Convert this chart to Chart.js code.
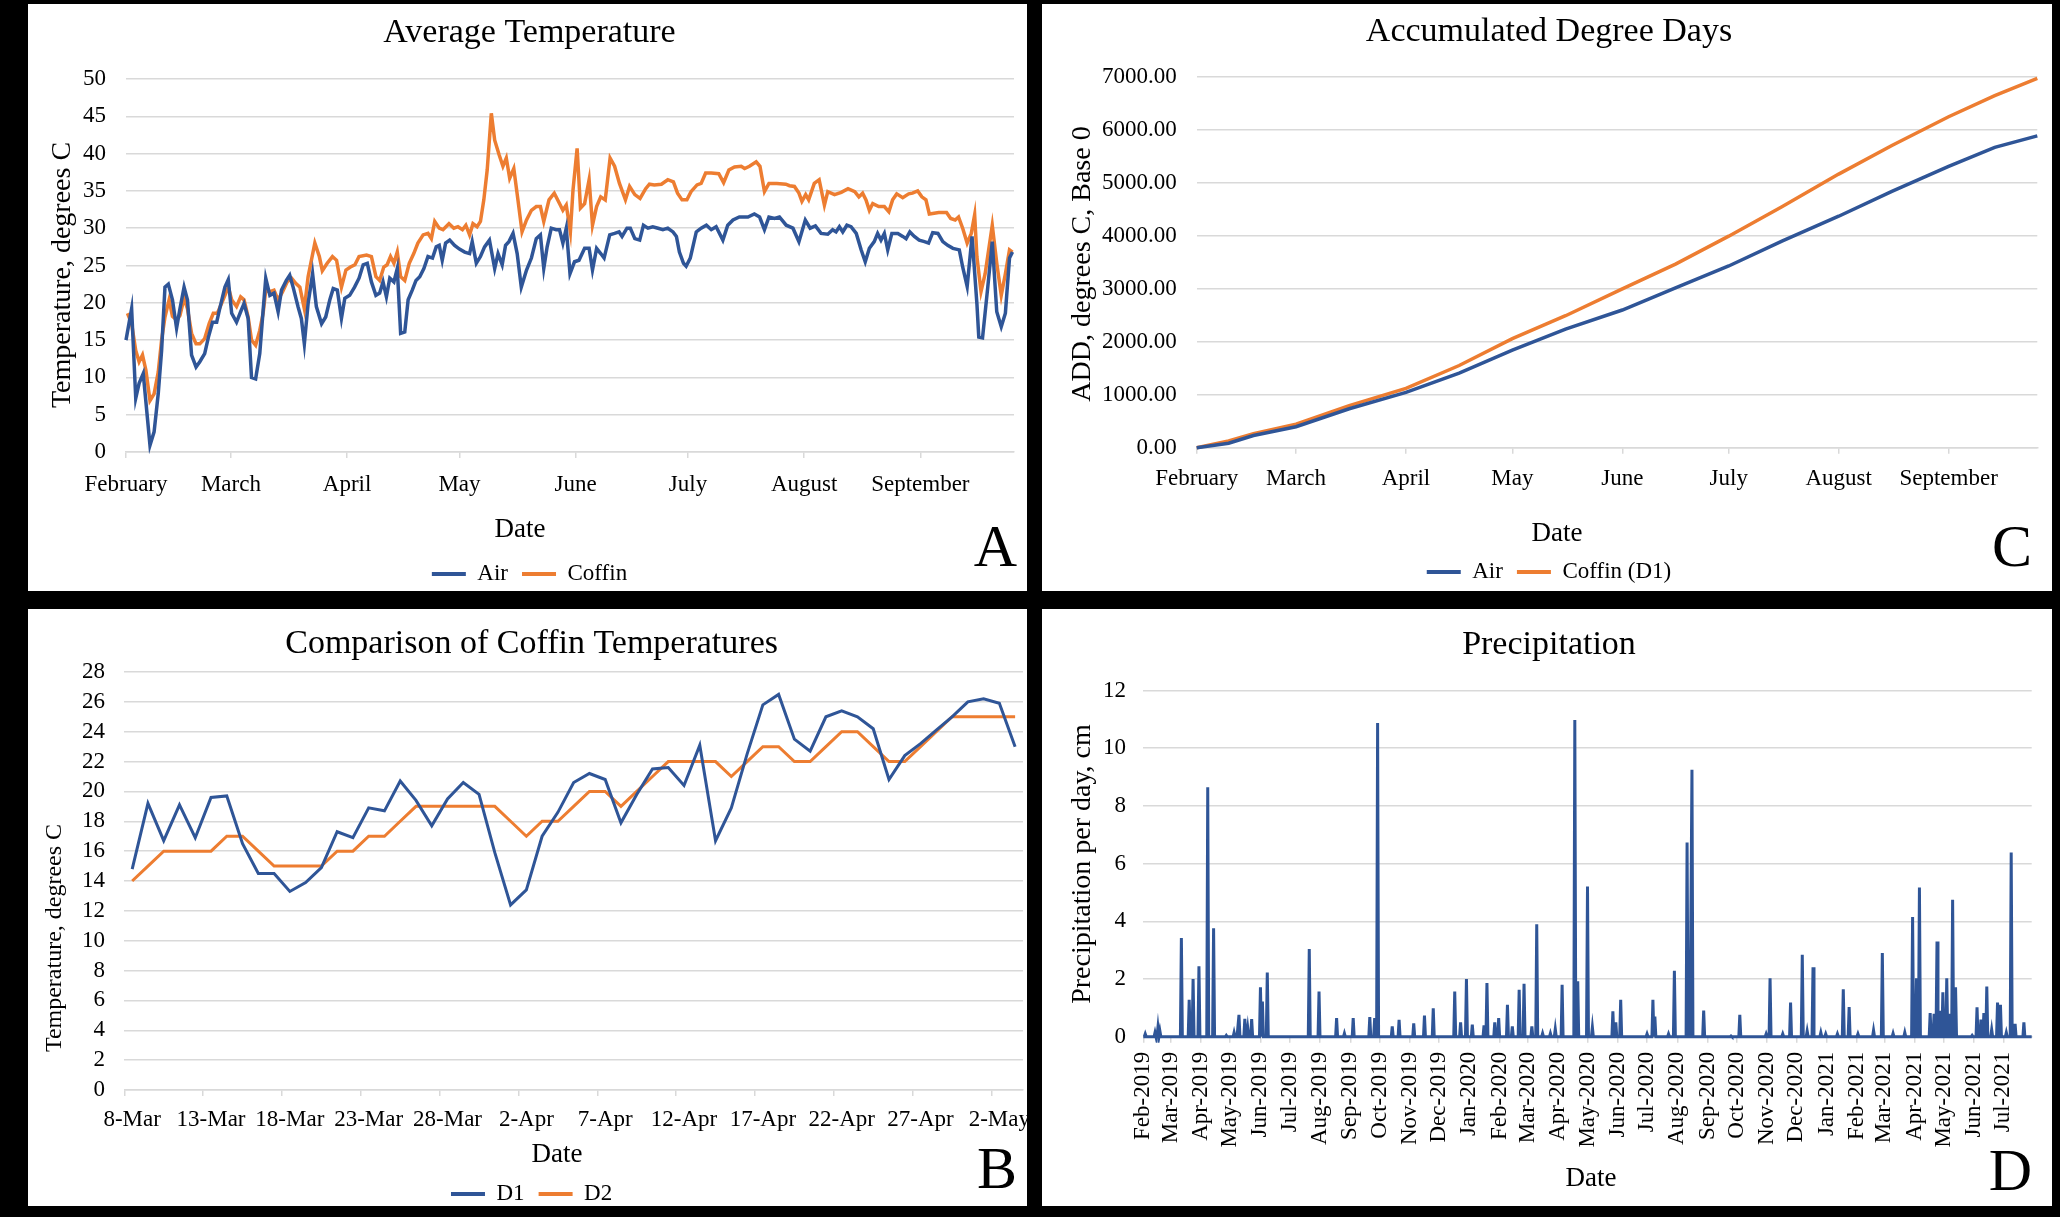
<!DOCTYPE html>
<html><head><meta charset="utf-8">
<script src="https://cdn.jsdelivr.net/npm/chart.js@4.4.1/dist/chart.umd.min.js"></script>
<style>
html,body{margin:0;padding:0;background:#000;}
body{width:2060px;height:1217px;position:relative;overflow:hidden;}
.panel{position:absolute;background:#fff;overflow:hidden;}
.panel canvas{position:absolute;left:0;top:0;}
</style></head><body>
<div class="panel" style="left:28px;top:4px;width:999px;height:587px"><canvas id="cA" width="999" height="627"></canvas></div>
<div class="panel" style="left:1042px;top:4px;width:1010px;height:587px"><canvas id="cC" width="1010" height="627"></canvas></div>
<div class="panel" style="left:28px;top:609px;width:999px;height:597px"><canvas id="cB" width="999" height="637"></canvas></div>
<div class="panel" style="left:1042px;top:609px;width:1010px;height:597px"><canvas id="cD" width="1010" height="637"></canvas></div>
<script>
// ---------- DATA ----------
// Panel A: average temperature (day index from 1 Feb)
const monthStarts = [0, 28, 59, 89, 120, 150, 181, 212];
const monthNames = ['February','March','April','May','June','July','August','September'];
const airDay = [0,1.5,2.6,3.5,4.6,6.4,7.5,8.6,9.5,10.4,11.3,12.4,13.5,14.4,15.5,16.4,17.5,18.7,19.7,21,22,23.1,24.2,25,26.4,27.3,28.2,29.5,30.6,31.5,32.6,33.5,34.6,35.7,36.6,37.3,38.4,39.5,40.6,41.5,42.8,43.7,44.6,45.9,46.8,47.6,48.6,49.8,50.8,52.2,53.3,54.4,55.3,56.4,57.5,58.4,59.7,61,62.2,63.3,64.4,65.5,66.7,67.7,68.6,69.5,70.4,71.5,72.4,73.3,74.4,75.3,76.4,77.4,78.4,79.5,80.6,81.8,82.8,83.6,84.4,85.3,86.4,87.7,89,90.4,91.7,92.4,93.5,94.6,95.7,97,98.4,99.3,100.4,101.3,102.2,103.3,104.4,105.5,106.9,108.2,109.5,110.6,111.5,112.4,113.5,114.8,115.7,116.6,117.5,118.5,119.7,120.9,122.4,123.6,124.5,125.6,126.7,127.6,129.1,130.4,131.6,132.4,133.7,134.6,135.8,137.1,138.1,139.3,140.6,142,143.3,144.6,146,146.9,147.7,148.8,149.5,150.6,152.2,153.5,154.9,156.2,157.5,159.3,160.6,162,163.7,166,167.7,169.1,170.4,171.6,173.1,174.4,176.2,178,179.6,181.3,182.6,184,185.5,187.3,188.6,189.5,190.4,191.3,192.4,193.5,194.9,196.2,197.3,198.4,199.7,200.6,201.5,202.4,203.3,204.4,206,207.3,208.2,209.2,210.4,211.7,213.1,214.2,215.3,216.7,218,219.3,220.7,222.4,223.3,224.5,225.8,227.1,227.6,228.6,230,231.2,232.4,233.6,234.7,235.8,236.6];
const airTemp = [15,19.2,7.2,9.2,10.5,0.9,2.7,7.8,13.6,22.1,22.5,20.4,16.6,19.2,22.1,20.4,13,11.4,12.1,13.2,15.4,17.4,17.4,19.2,22.1,23.1,18.6,17.4,18.8,19.9,17.9,10,9.8,13.2,19,23.3,21,21.3,18.8,21.7,23,23.7,22.1,19.5,17.9,14.5,19.9,23.9,19.5,17.2,18.1,20.4,21.9,21.7,17.9,20.6,21,22.1,23.3,25.1,25.3,22.8,21,21.3,22.8,20.8,23.3,22.8,24.6,15.9,16.1,20.4,21.7,23,23.5,24.6,26.2,26,27.5,27.7,25.7,28,28.4,27.7,27.2,26.8,26.6,28.2,25.3,26.2,27.5,28.4,24.6,26.6,25.1,27.7,28.2,29.3,26.6,22.1,24.4,26,28.6,29.1,24.6,27.5,30,29.8,29.8,28,30,23.9,25.5,25.7,27.3,27.3,24.4,27.3,26.6,26,29.1,29.3,29.5,28.9,30,30,28.6,28.4,30.4,30,30.2,30,29.8,30,29.5,28.9,26.8,25.3,24.9,26,29.5,30,30.4,29.8,30.2,28.4,30.4,31.1,31.5,31.5,31.9,31.5,29.8,31.5,31.3,31.5,30.4,30,28.2,31.1,30,30.3,29.3,29.2,29.8,29.5,30.2,29.5,30.4,30.2,29.3,27.1,25.5,27.3,28.2,29.3,28.4,29.3,27.1,29.3,29.3,28.9,28.6,29.5,28.9,28.4,28.2,28,29.4,29.3,28.2,27.7,27.3,27.1,24.8,22.2,28.9,19.9,15.4,15.3,22.1,28.2,18.8,16.8,18.6,26,26.8];
const coffinDay = [0.4,1.5,2.6,3.5,4.4,5.3,6.4,7.5,8.6,9.5,10.4,11.5,12.4,13.5,14.4,15.5,16.4,17.5,18.7,19.7,21,22.2,23.3,24.4,25.5,26.4,27.3,28.2,29.5,30.6,31.5,32.6,33.5,34.6,35.7,36.6,37.3,38.4,39.5,40.6,41.8,43,44.2,45.3,46.4,47.6,48.6,50.4,51.6,52.4,53.7,55.1,56.2,57.5,58.7,59.9,61.1,62.2,64.2,65.5,66.7,67.7,68.8,69.7,70.6,71.5,72.4,73.3,74.4,75.6,76.8,77.9,79.3,80.6,81.5,82.4,83.6,84.6,86.2,87.5,88.6,89.8,90.7,91.7,92.6,93.7,94.6,95.5,96.4,97.5,98.4,99.6,100.6,101.5,102.4,103.5,104.6,105.7,106.9,108.2,109.5,110.6,111.5,112.9,114.3,115.7,116.6,117.5,118.6,119.3,120.4,121.3,122.4,123.6,124.5,125.6,126.7,127.9,129.2,130.4,131.7,133.3,134.4,135.8,137.2,138.7,139.7,141,142.9,144.6,146.1,147.2,148.4,149.7,150.8,152.4,153.5,154.7,156.2,158.2,159.5,160.9,162.4,164.2,165.1,166.4,168.2,169.2,170.4,171.6,173.7,176.1,177.1,178.4,179.6,180.4,181.4,182.2,183.7,185,186.4,187.3,189.1,190.9,192.7,194.5,195.6,196.6,197.5,198.4,199.3,200.9,202.4,203.6,204.6,205.7,207.3,208.9,209.9,211.3,212.4,213.5,214.4,215.7,216.9,219,220.1,221.3,222.2,223.3,224.5,225.6,226.5,227.1,228.2,229.3,231.2,232.4,233.6,234.7,235.8,236.6];
const coffinTemp = [18.6,17.2,13.6,12.1,13,11,6.9,7.8,10.7,15,18.1,20.4,18.2,17.7,18.3,20.6,19.2,15.9,14.5,14.5,15.2,17.2,18.6,18.6,19.9,21,22.1,20.4,19.5,20.8,20.4,18.1,15,14.3,16.3,18.6,21.7,21.5,21.7,20.4,21.5,22.8,23.3,22.6,22.1,19.2,23.5,28,26.2,24.3,25.3,26.2,25.7,22.1,24.4,24.8,25.1,26.2,26.4,26.2,23.5,23,24.8,25.1,26.2,25.3,26.8,23.5,23,25.3,26.6,28,29.1,29.3,28.6,30.9,30,29.8,30.6,30,30.2,29.8,30.4,29.1,30.6,30.2,30.9,33.8,37.8,45.4,41.8,39.8,38.3,39.4,36.7,38,33.8,29.5,31.1,32.4,32.9,32.9,30.9,33.8,34.7,33.3,32.4,33.1,29.5,35.1,40.7,32.7,33.3,36.5,30.4,32.9,34.2,33.8,39.4,38.3,36,33.8,35.6,34.5,34,35.3,35.9,35.8,35.9,36.5,36.2,34.7,33.8,33.8,34.9,35.8,36,37.4,37.4,37.3,36.1,37.8,38.2,38.3,38,38.3,38.9,38.3,34.9,36,36,35.9,35.7,35.6,34.7,33.6,34.5,33.8,36,36.5,33.1,34.9,34.5,34.8,35.3,34.9,34.2,34.7,33.8,32.4,33.3,32.9,32.9,32.2,33.8,34.6,34.1,34.6,34.7,35,34.2,33.8,31.9,32,32.1,32.1,31.3,31.1,31.5,30,28,29.3,31.8,26.2,21.5,23.9,30.4,25.3,21,23.9,27.1,26.8];

// Panel C: accumulated degree days
const addDay = [0, 9, 16, 28, 43, 59, 74, 89, 104, 120, 135, 150, 165, 181, 196, 212, 225, 237];
const addAir = [0, 87, 231, 397, 736, 1046, 1407, 1840, 2237, 2598, 3016, 3428, 3897, 4366, 4835, 5304, 5665, 5881];
const addCoffin = [0, 130, 267, 447, 794, 1119, 1551, 2057, 2490, 2995, 3464, 3990, 4546, 5160, 5700, 6242, 6639, 6963];

// Panel B: comparison of coffin temperatures
const bDates = ['8-Mar','9-Mar','10-Mar','11-Mar','12-Mar','13-Mar','14-Mar','15-Mar','16-Mar','17-Mar','18-Mar','19-Mar','20-Mar','21-Mar','22-Mar','23-Mar','24-Mar','25-Mar','26-Mar','27-Mar','28-Mar','29-Mar','30-Mar','31-Mar','1-Apr','2-Apr','3-Apr','4-Apr','5-Apr','6-Apr','7-Apr','8-Apr','9-Apr','10-Apr','11-Apr','12-Apr','13-Apr','14-Apr','15-Apr','16-Apr','17-Apr','18-Apr','19-Apr','20-Apr','21-Apr','22-Apr','23-Apr','24-Apr','25-Apr','26-Apr','27-Apr','28-Apr','29-Apr','30-Apr','1-May','2-May','3-May'];
const bD1 = [14.8,19.2,16.7,19.1,16.9,19.6,19.7,16.5,14.5,14.5,13.3,13.9,14.9,17.3,16.9,18.9,18.7,20.7,19.4,17.7,19.5,20.6,19.8,15.9,12.4,13.4,17,18.6,20.6,21.2,20.8,17.9,19.8,21.5,21.6,20.4,23.1,16.7,18.9,22.5,25.8,26.5,23.5,22.7,25,25.4,25,24.2,20.8,22.4,23.2,24.1,25,26,26.2,25.9,23];
const bD2 = [14,15,16,16,16,16,17,17,16,15,15,15,15,16,16,17,17,18,19,19,19,19,19,19,18,17,18,18,19,20,20,19,20,21,22,22,22,22,21,22,23,23,22,22,23,24,24,23,22,22,23,24,25,25,25,25,25];

// Panel D: precipitation (day index from 1 Feb 2019), non-zero days only
const dLastDay = 910;
const dMonthLabels = ['Feb-2019','Mar-2019','Apr-2019','May-2019','Jun-2019','Jul-2019','Aug-2019','Sep-2019','Oct-2019','Nov-2019','Dec-2019','Jan-2020','Feb-2020','Mar-2020','Apr-2020','May-2020','Jun-2020','Jul-2020','Aug-2020','Sep-2020','Oct-2020','Nov-2020','Dec-2020','Jan-2021','Feb-2021','Mar-2021','Apr-2021','May-2021','Jun-2021','Jul-2021'];
const rainDay = [2,12,15,17,39,47,51,57,66,72,85,93,98,104,107,111,120,122,127,170,180,198,206,215,232,237,240,255,262,277,288,297,319,325,331,337,349,352,360,364,373,378,385,390,398,403,409,417,422,429,442,445,455,460,481,484,489,516,522,524,538,544,557,562,574,602,611,638,642,655,663,675,680,686,694,699,711,717,723,732,748,757,768,780,788,792,795,806,810,813,816,819,823,826,829,832,849,854,858,861,864,869,875,878,884,889,893,902];
const rainCm = [0.1,0.15,0.33,0.2,3.42,1.28,2.0,2.44,8.65,3.76,0.05,0.15,0.76,0.62,0.3,0.61,1.72,1.22,2.23,3.04,1.57,0.65,0.12,0.65,0.68,0.65,10.87,0.36,0.59,0.47,0.74,0.99,1.57,0.5,2.0,0.42,0.4,1.86,0.5,0.65,1.11,0.36,1.63,1.84,0.36,3.9,0.12,0.12,0.27,1.8,10.98,1.92,5.21,0.33,0.88,0.5,1.28,0.1,1.28,0.7,0.1,2.29,6.73,9.25,0.91,0.03,0.76,0.1,2.03,0.1,1.19,2.84,0.2,2.41,0.15,0.1,0.1,1.65,1.03,0.1,0.22,2.9,0.12,0.15,4.15,2.03,5.17,0.82,0.8,3.3,0.9,1.54,2.03,0.8,4.75,1.72,0.05,1.02,0.6,0.82,1.74,0.25,1.19,1.11,0.15,6.39,0.45,0.5];

// ---------- STYLE ----------
const FONT = "'Liberation Serif','Times New Roman',serif";
const BLUE = '#2F5597';
const ORANGE = '#ED7D31';
const GRID = '#d9d9d9';
Chart.defaults.font.family = FONT;
Chart.defaults.color = '#000';

const dMonthStarts = dMonthLabels.map((_, k) => Math.round((Date.UTC(2019, 1 + k, 1) - Date.UTC(2019, 1, 1)) / 86400000));
const dDaily = new Array(dLastDay + 1).fill(0);
rainDay.forEach((d, i) => { dDaily[d] = rainCm[i]; });

const textPlugin = {
  id: 'panelText',
  afterDraw(chart, args, o) {
    const ctx = chart.ctx;
    ctx.save();
    ctx.fillStyle = '#000';
    if (o.xt) {
      ctx.font = o.xt.size + 'px ' + FONT;
      ctx.textAlign = 'center'; ctx.textBaseline = 'middle';
      ctx.fillText(o.xt.text, o.xt.px, o.xt.py);
    }
    if (o.yt) {
      ctx.save();
      ctx.translate(o.yt.px, o.yt.py);
      ctx.rotate(-Math.PI / 2);
      ctx.font = o.yt.size + 'px ' + FONT;
      ctx.textAlign = 'center'; ctx.textBaseline = 'middle';
      ctx.fillText(o.yt.text, 0, 0);
      ctx.restore();
    }
    if (o.letter) {
      ctx.font = '60px ' + FONT;
      ctx.textAlign = 'right'; ctx.textBaseline = 'alphabetic';
      ctx.fillText(o.letter.text, o.letter.px, o.letter.py);
    }
    ctx.restore();
  }
};

function legendCfg() {
  return {
    display: true, position: 'bottom',
    labels: {
      font: { size: 23 }, boxWidth: 34, boxHeight: 4, padding: 14, color: '#000',
      generateLabels(chart) {
        return chart.data.datasets.map((ds, i) => ({
          text: ds.label, fillStyle: ds.borderColor, strokeStyle: ds.borderColor,
          lineWidth: 0, hidden: false, datasetIndex: i, fontColor: '#000'
        }));
      }
    }
  };
}
function titleCfg(text, top, bottom) {
  return { display: true, text, color: '#000', font: { size: 34, weight: 'normal' }, padding: { top, bottom } };
}
function lineDs(label, pts, color, w) {
  return { label, data: pts, borderColor: color, backgroundColor: color, borderWidth: w, pointRadius: 0, tension: 0, clip: 6 };
}
function monthX(height, pad) {
  return {
    type: 'linear', min: 0, max: 237,
    afterFit: s => { s.height = height; },
    afterBuildTicks: s => { s.ticks = monthStarts.map(v => ({ value: v })); },
    ticks: { autoSkip: false, maxRotation: 0, minRotation: 0, padding: pad, font: { size: 23 },
      callback: v => monthNames[monthStarts.indexOf(v)] },
    grid: { drawOnChartArea: false, drawTicks: true, tickLength: 6, color: GRID, lineWidth: 1.5 },
    border: { display: true, color: GRID, width: 1.5 }
  };
}
function valueY(min, max, step, width, pad, cb) {
  const t = { stepSize: step, padding: pad, font: { size: 23 }, autoSkip: false };
  if (cb) t.callback = cb;
  return {
    min, max, afterFit: s => { s.width = width; },
    ticks: t,
    grid: { color: GRID, lineWidth: 1.5, drawTicks: false },
    border: { display: false }
  };
}
const base = { responsive: false, animation: false, devicePixelRatio: 1, events: [] };

// ---------- A ----------
new Chart(document.getElementById('cA'), {
  type: 'line',
  data: { datasets: [
    lineDs('Air', airDay.map((d, i) => ({ x: d, y: airTemp[i] })), BLUE, 3.5),
    lineDs('Coffin', coffinDay.map((d, i) => ({ x: d, y: coffinTemp[i] })), ORANGE, 3.5)
  ] },
  options: Object.assign({}, base, {
    layout: { padding: { left: 17, right: 13, top: 0, bottom: 35.5 } },
    plugins: {
      title: titleCfg('Average Temperature', 9.1, 25.1),
      legend: legendCfg(), tooltip: { enabled: false },
      panelText: { xt: { text: 'Date', px: 492, py: 526, size: 27 },
        yt: { text: 'Temperature, degrees C', px: 35, py: 271, size: 28 },
        letter: { text: 'A', px: 989, py: 562 } }
    },
    scales: { x: monthX(96.5, 13), y: valueY(0, 50, 5, 81, 20) }
  }),
  plugins: [textPlugin]
});

// ---------- C ----------
new Chart(document.getElementById('cC'), {
  type: 'line',
  data: { datasets: [
    lineDs('Air', addDay.map((d, i) => ({ x: d, y: addAir[i] })), BLUE, 3.5),
    lineDs('Coffin (D1)', addDay.map((d, i) => ({ x: d, y: addCoffin[i] })), ORANGE, 3.5)
  ] },
  options: Object.assign({}, base, {
    layout: { padding: { left: 18.7, right: 14.7, top: 0, bottom: 37.5 } },
    plugins: {
      title: titleCfg('Accumulated Degree Days', 8.1, 23.6),
      legend: legendCfg(), tooltip: { enabled: false },
      panelText: { xt: { text: 'Date', px: 515, py: 530, size: 27 },
        yt: { text: 'ADD, degrees C, Base 0', px: 41, py: 260, size: 28 },
        letter: { text: 'C', px: 990, py: 562 } }
    },
    scales: { x: monthX(98.7, 11.7), y: valueY(0, 7000, 1000, 136, 19.9, v => v.toFixed(2)) }
  }),
  plugins: [textPlugin]
});

// ---------- B ----------
new Chart(document.getElementById('cB'), {
  type: 'line',
  data: { labels: bDates, datasets: [
    lineDs('D1', bD1, BLUE, 3),
    lineDs('D2', bD2, ORANGE, 3)
  ] },
  options: Object.assign({}, base, {
    layout: { padding: { left: 12.2, right: 4, top: 0, bottom: 30.5 } },
    plugins: {
      title: titleCfg('Comparison of Coffin Temperatures', 14.6, 7.6),
      legend: legendCfg(), tooltip: { enabled: false },
      panelText: { xt: { text: 'Date', px: 529, py: 546, size: 27 },
        yt: { text: 'Temperature, degrees C', px: 26.5, py: 329, size: 24 },
        letter: { text: 'B', px: 989, py: 579 } }
    },
    scales: {
      x: {
        type: 'category', offset: true,
        afterFit: s => { s.height = 78.5; },
        ticks: { autoSkip: false, maxRotation: 0, minRotation: 0, padding: 10.5, font: { size: 23 },
          callback: function (v, i) { return i % 5 === 0 ? bDates[i] : ''; } },
        grid: { offset: true, drawOnChartArea: false, drawTicks: true, tickLength: 6, lineWidth: 1.5,
          color: c => (c.index % 5 === 0 ? GRID : 'rgba(0,0,0,0)') },
        border: { display: true, color: GRID, width: 1.5 }
      },
      y: valueY(0, 28, 2, 84.1, 19.3)
    }
  }),
  plugins: [textPlugin]
});

// ---------- D ----------
new Chart(document.getElementById('cD'), {
  type: 'line',
  data: { datasets: [
    lineDs('Precipitation', dDaily.map((v, i) => ({ x: i, y: v })), BLUE, 3)
  ] },
  options: Object.assign({}, base, {
    layout: { padding: { left: 24.3, right: 20.3, top: 0, bottom: 59.2 } },
    plugins: {
      title: titleCfg('Precipitation', 15.6, 25.1),
      legend: { display: false }, tooltip: { enabled: false },
      panelText: { xt: { text: 'Date', px: 549, py: 569.5, size: 27 },
        yt: { text: 'Precipitation per day, cm', px: 41, py: 255, size: 28 },
        letter: { text: 'D', px: 990, py: 581 } }
    },
    scales: {
      x: {
        type: 'linear', min: 0, max: dLastDay,
        afterFit: s => { s.height = 150; },
        afterBuildTicks: s => { s.ticks = dMonthStarts.map(v => ({ value: v })); },
        ticks: { autoSkip: false, maxRotation: 90, minRotation: 90, padding: 9, font: { size: 23 },
          callback: v => dMonthLabels[dMonthStarts.indexOf(v)] },
        grid: { drawOnChartArea: false, drawTicks: true, tickLength: 6, color: GRID, lineWidth: 1.5 },
        border: { display: true, color: GRID, width: 1.5 }
      },
      y: valueY(0, 12, 2, 77, 17.3)
    }
  }),
  plugins: [textPlugin]
});
</script>
</body></html>
